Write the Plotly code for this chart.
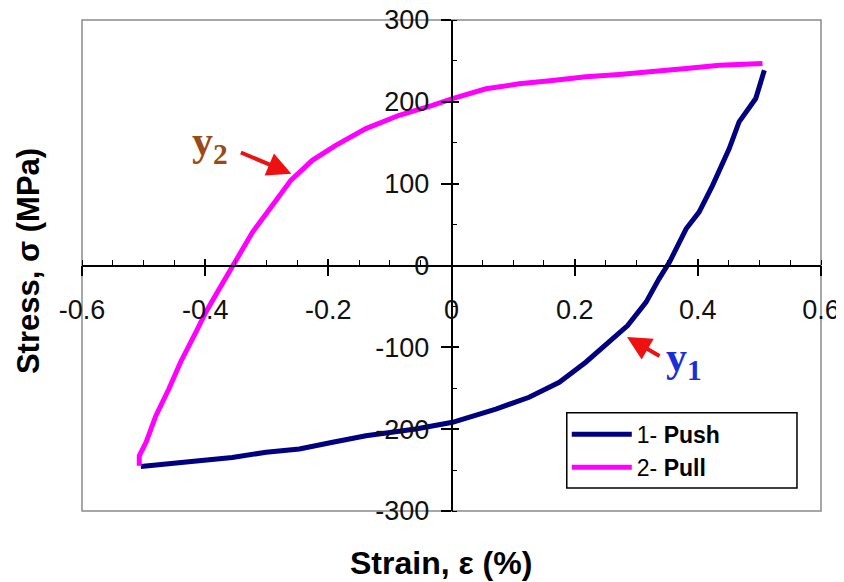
import plotly.graph_objects as go

# Push curve (1- Push): strain (%) and stress (MPa)
push_strain = [0.508, 0.494, 0.467, 0.451, 0.424, 0.402, 0.381, 0.354, 0.337, 0.316,
               0.286, 0.256, 0.218, 0.175, 0.126, 0.072, 0.0016, -0.058, -0.139, -0.193,
               -0.247, -0.301, -0.356, -0.41, -0.464, -0.5045]
push_stress = [238.6, 204, 175.5, 142.8, 97.9, 65.3, 44.9, 4.2, -16.3, -44.8,
               -73.4, -93.7, -118.2, -142.7, -161, -175.4, -191.6, -199.8, -208, -216,
               -224.3, -228.3, -234.5, -238.6, -242.7, -245.5]

# Pull curve (2- Pull)
pull_strain = [-0.507, -0.507, -0.496, -0.48, -0.459, -0.44, -0.415, -0.399, -0.377, -0.3557,
               -0.323, -0.291, -0.261, -0.226, -0.188, -0.139, -0.085, -0.031, 0.0016, 0.056,
               0.11, 0.164, 0.218, 0.272, 0.3265, 0.381, 0.435, 0.505]
pull_stress = [-244.7, -232.5, -216, -183.6, -150.9, -118.2, -81.5, -57, -28.5, 0,
               40.8, 73.4, 104, 128.5, 146.9, 167.3, 183.6, 195.8, 204, 216,
               222, 226, 230.6, 233.4, 236.6, 240.7, 244.8, 246.8]

x_ticks = [-0.6, -0.4, -0.2, 0, 0.2, 0.4, 0.6]
x_tick_labels = ["-0.6", "-0.4", "-0.2", "0", "0.2", "0.4", "0.6"]
y_ticks = [-300, -200, -100, 0, 100, 200, 300]
y_tick_labels = ["-300", "-200", "-100", "0", "100", "200", "300"]

fig = go.Figure()
fig.add_trace(go.Scatter(x=push_strain, y=push_stress, mode="lines",
                         name="1- <b>Push</b>", line=dict(color="#000080", width=5)))
fig.add_trace(go.Scatter(x=pull_strain, y=pull_stress, mode="lines",
                         name="2- <b>Pull</b>", line=dict(color="#FF00FF", width=5)))

tickfont = dict(family="Liberation Sans, Arial", size=27, color="#111")

fig.update_layout(
    width=844, height=582,
    margin=dict(l=74, r=31, t=12, b=79, autoexpand=False),
    paper_bgcolor="white", plot_bgcolor="white",
    showlegend=True,
    legend=dict(x=0.656, y=0.2, xanchor="left", yanchor="top",
                bgcolor="rgba(0,0,0,0)", borderwidth=0,
                font=dict(family="Liberation Sans, Arial", size=23, color="black"),
                itemwidth=60, tracegroupgap=0),
    xaxis=dict(range=[-0.6, 0.6], anchor="free", position=0.5, automargin=False,
               showgrid=False, zeroline=False, showline=True, linecolor="black", linewidth=1.5,
               tickmode="array", tickvals=x_ticks, ticktext=x_tick_labels,
               ticks="outside", ticklen=10, tickwidth=1.5, tickcolor="black",
               tickfont=tickfont, ticklabelstandoff=10, ticklabeloverflow="allow",
               minor=dict(dtick=0.05, tick0=0, ticks="inside", ticklen=5, tickwidth=1.2,
                          tickcolor="black", showgrid=False)),
    yaxis=dict(range=[-300, 300], anchor="free", position=0.5, automargin=False,
               showgrid=False, zeroline=False, showline=True, linecolor="black", linewidth=1.5,
               tickmode="array", tickvals=y_ticks, ticktext=y_tick_labels,
               ticks="outside", ticklen=10, tickwidth=1.5, tickcolor="black",
               tickfont=tickfont, ticklabelstandoff=6, ticklabeloverflow="allow",
               minor=dict(dtick=50, tick0=0, ticks="inside", ticklen=5, tickwidth=1.2,
                          tickcolor="black", showgrid=False)),
    xaxis2=dict(range=[-0.6, 0.6], overlaying="x", anchor="free", position=0.5, automargin=False,
                showgrid=False, zeroline=False, showline=False,
                tickmode="array", tickvals=x_ticks, showticklabels=False,
                ticks="inside", ticklen=7, tickwidth=1.5, tickcolor="black"),
    yaxis2=dict(range=[-300, 300], overlaying="y", anchor="free", position=0.5, automargin=False,
                showgrid=False, zeroline=False, showline=False,
                tickmode="array", tickvals=y_ticks, showticklabels=False,
                ticks="inside", ticklen=6, tickwidth=1.5, tickcolor="black"),
)

# invisible trace to activate overlay axes
fig.add_trace(go.Scatter(x=[0], y=[0], xaxis="x2", yaxis="y2", mode="markers",
                         marker=dict(opacity=0), showlegend=False, hoverinfo="skip"))

# plot frame
fig.add_shape(type="rect", xref="paper", yref="paper", x0=0, y0=0, x1=1, y1=1,
              line=dict(color="#8a8a8a", width=1.5), layer="below")
# legend box
fig.add_shape(type="rect", xref="paper", yref="paper", x0=0.656, y0=0.047, x1=0.9675, y1=0.2,
              line=dict(color="black", width=1.5), fillcolor="white", layer="above")

# axis titles
fig.add_annotation(text="<b>Strain, ε (%)</b>", xref="paper", yref="paper",
                   x=0.486, y=0, yshift=-52, xanchor="center", yanchor="middle",
                   showarrow=False,
                   font=dict(family="Liberation Sans, Arial", size=32, color="black"))
fig.add_annotation(text="<b>Stress, σ (MPa)</b>", xref="paper", yref="paper",
                   x=0, y=0.509, xshift=-54, xanchor="center", yanchor="middle",
                   textangle=-90, showarrow=False,
                   font=dict(family="Liberation Sans, Arial", size=31, color="black"))

# labels and arrows
serif = "Liberation Serif, Times New Roman"
fig.add_annotation(text="<b>y<sub>2</sub></b>", x=-0.392, y=149, showarrow=False,
                   font=dict(family=serif, size=42, color="#9A4A17"))
fig.add_annotation(text="", x=-0.26, y=112, ax=-52, ay=-22, showarrow=True,
                   arrowhead=2, arrowsize=1.2, arrowwidth=4, arrowcolor="#EE1111")
fig.add_annotation(text="<b>y<sub>1</sub></b>", x=0.378, y=-115, showarrow=False,
                   font=dict(family=serif, size=42, color="#1A2ED8"))
fig.add_annotation(text="", x=0.285, y=-87.3, ax=34, ay=20, showarrow=True,
                   arrowhead=2, arrowsize=1.2, arrowwidth=4, arrowcolor="#EE1111")

fig.write_html("out.html")
